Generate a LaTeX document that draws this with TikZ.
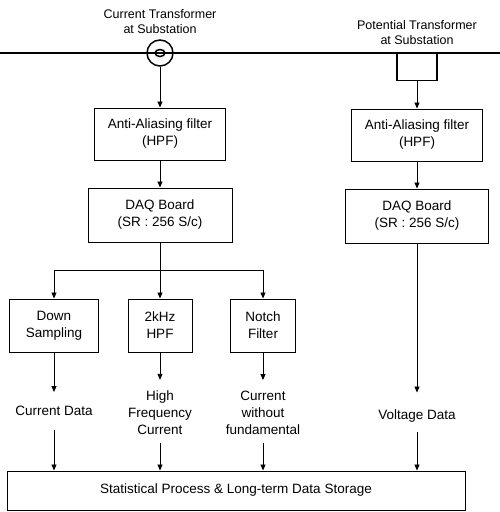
\documentclass[tikz,border=0pt]{standalone}
\usepackage{fontspec}
\setmainfont{Liberation Sans}
\usepackage{tikz}
\usetikzlibrary{arrows.meta,positioning}

\begin{document}
\begin{tikzpicture}[x=1pt, y=-1pt, >={Triangle[length=6pt,width=5pt]},
    box/.style={draw, line width=1pt, align=center, inner sep=0pt, font=\fontsize{13.5}{17}\selectfont},
    lbl/.style={align=center, inner sep=0pt, font=\fontsize{13.5}{17}\selectfont},
    toplbl/.style={align=center, inner sep=0pt, font=\fontsize{12.5}{15}\selectfont},
    link/.style={->, line width=0.9pt}]
    \useasboundingbox (0,0) rectangle (500,512);
    \draw[line width=1.4pt] (0,53) -- (500,53);
    \node[circle, draw, line width=1.5pt, minimum size=26pt, inner sep=0pt] (ct) at (160,53) {};
    \draw[line width=1.5pt] (ct.center) ellipse (5 and 3.5);
    \node[draw, line width=1.4pt, minimum width=40pt, minimum height=27pt, anchor=north] (pt) at (417,53) {};
    \node[toplbl] (ctlbl) at (160,22) {Current Transformer\\at Substation};
    \node[toplbl] (ptlbl) at (417,33) {Potential Transformer\\at Substation};
    \node[box, minimum width=131pt, minimum height=52pt] (aa1) at (160,134) {Anti-Aliasing filter\\(HPF)};
    \node[box, minimum width=144pt, minimum height=54pt] (daq1) at (160,215) {DAQ Board\\(SR : 256 S/c)};
    \node[box, minimum width=131pt, minimum height=52pt] (aa2) at (417,135) {Anti-Aliasing filter\\(HPF)};
    \node[box, minimum width=143pt, minimum height=54pt] (daq2) at (417,216) {DAQ Board\\(SR : 256 S/c)};
    \node[box, minimum width=89pt, minimum height=53pt] (ds) at (54,325.5) {Down\\Sampling};
    \node[box, minimum width=64pt, minimum height=53pt] (hpf) at (160,325.5) {2kHz\\HPF};
    \node[box, minimum width=65pt, minimum height=53pt] (nf) at (263,325.5) {Notch\\Filter};
    \node[box, minimum width=458pt, minimum height=39pt] (store) at (236,490.5) {Statistical Process \& Long-term Data Storage};
    \node[lbl] (cd) at (54,411) {Current Data};
    \node[lbl] (hfc) at (160,413) {High\\Frequency\\Current};
    \node[lbl] (cwf) at (263,413) {Current\\without\\fundamental};
    \node[lbl] (vd) at (417,416) {Voltage Data};
    \coordinate (split) at (160,270);
    \draw[link] (ct) -- (aa1);
    \draw[link] (aa1) -- (daq1);
    \draw[link] (pt) -- (aa2);
    \draw[link] (aa2) -- (daq2);
    \draw[line width=0.9pt] (daq1) -- (split);
    \draw[link] (split) -| (ds.north);
    \draw[link] (split) -| (nf.north);
    \draw[link] (split) -- (hpf);
    \draw[link, shorten >=14pt] (ds) -- (cd);
    \draw[link, shorten <=14pt] (cd) -- (cd |- store.north);
    \draw[link, shorten >=11pt] (hpf) -- (hfc);
    \draw[link, shorten <=8pt] (hfc) -- (hfc |- store.north);
    \draw[link, shorten >=11pt] (nf) -- (cwf);
    \draw[link, shorten <=8pt] (cwf) -- (cwf |- store.north);
    \draw[link, shorten >=17pt] (daq2) -- (vd);
    \draw[link, shorten <=10pt] (vd) -- (vd |- store.north);
\end{tikzpicture}
\end{document}
